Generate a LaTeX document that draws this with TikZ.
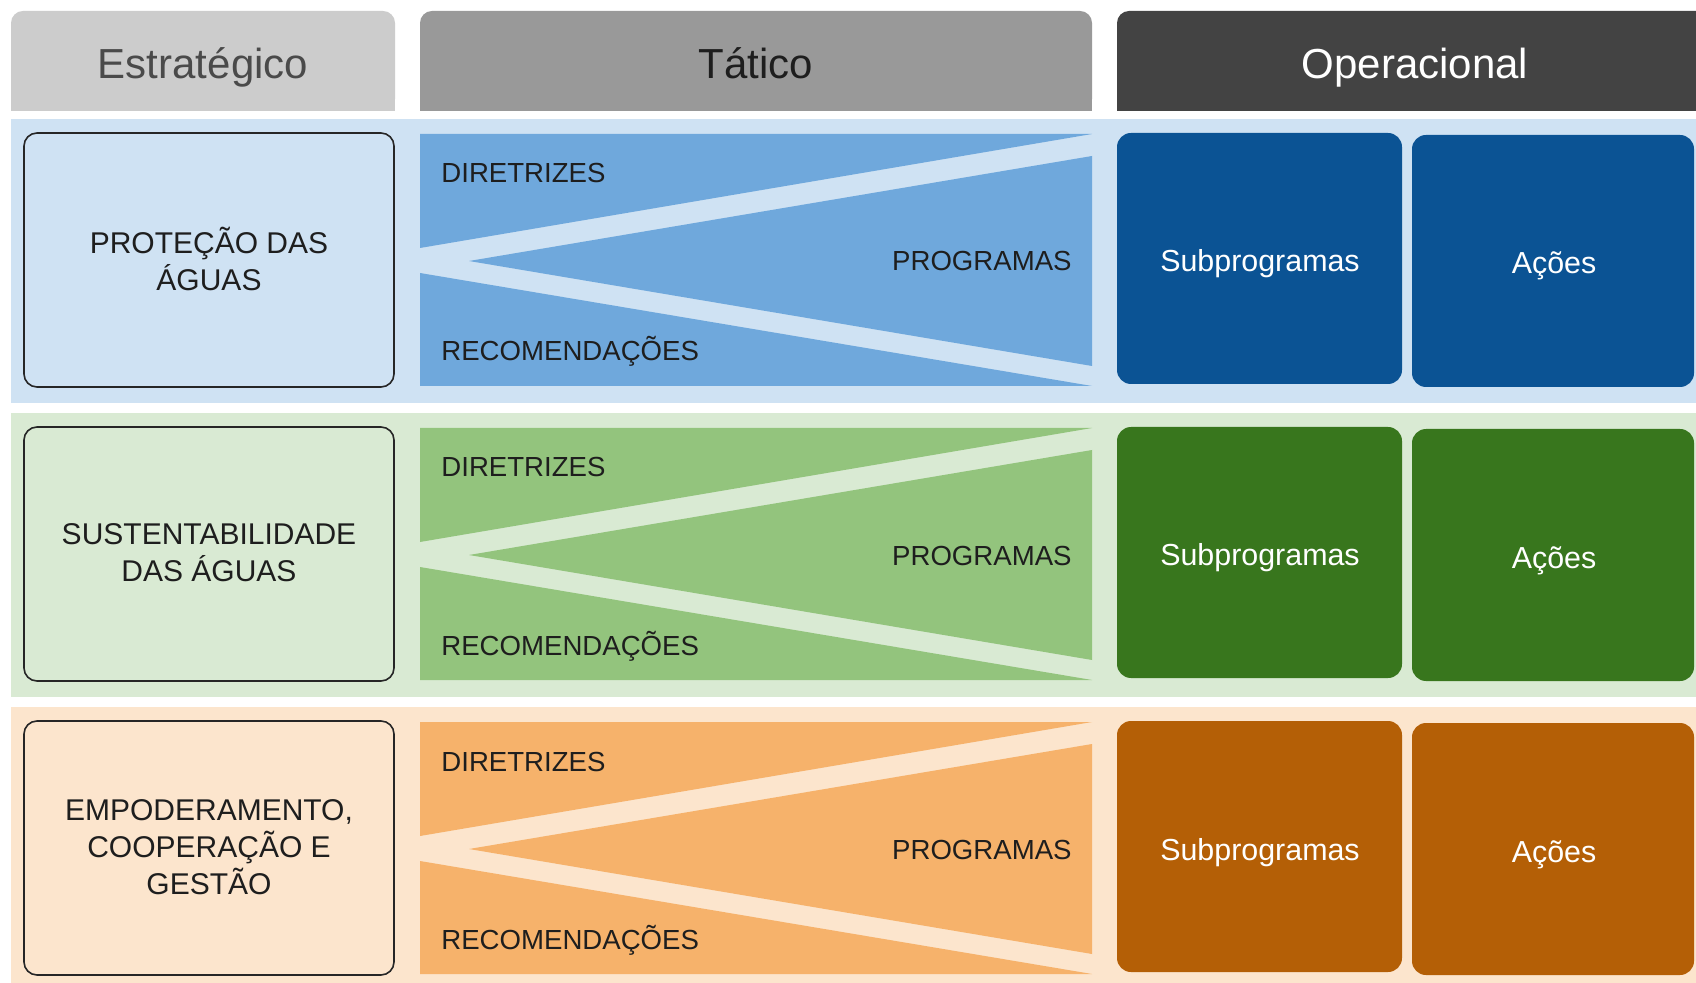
\documentclass[tikz,border=0pt]{standalone}
\usepackage{fontspec}
\setmainfont{Liberation Sans}
\definecolor{hdrA}{HTML}{CCCCCC}
\definecolor{hdrB}{HTML}{999999}
\definecolor{hdrC}{HTML}{434343}
\definecolor{bandA}{HTML}{CFE2F3}
\definecolor{tacA}{HTML}{6FA8DC}
\definecolor{opA}{HTML}{0B5394}
\definecolor{bandB}{HTML}{D9EAD3}
\definecolor{tacB}{HTML}{93C47D}
\definecolor{opB}{HTML}{38761D}
\definecolor{bandC}{HTML}{FCE5CD}
\definecolor{tacC}{HTML}{F6B26B}
\definecolor{opC}{HTML}{B45F06}
\definecolor{txtdark}{HTML}{1E1E1E}
\definecolor{txtgray}{HTML}{4A4A4A}
\tikzset{
  hdrtext/.style={font=\fontsize{21}{25}\selectfont, anchor=base, inner sep=0pt},
  taclbl/.style={font=\fontsize{13.8}{16}\selectfont, inner sep=0pt, text=txtdark},
  oplbl/.style={font=\fontsize{15.2}{18}\selectfont, text=white, anchor=base, inner sep=0pt},
  stratlbl/.style={font=\fontsize{15}{18.4}\selectfont, align=center, inner sep=0pt, text=txtdark},
  stratbox/.style={draw=black!85, line width=0.8pt, rounded corners=6.5pt},
  opbox/.style={rounded corners=7pt},
}
\begin{document}
\begin{tikzpicture}[x=0.5pt,y=-0.5pt]
\useasboundingbox (0,0) rectangle (1696,983);
\clip (0,0) rectangle (1696,983);
\fill[white] (0,0) rectangle (1696,983);
% headers
\fill[hdrA, rounded corners=6pt] (11,11) rectangle (395,111);
\fill[hdrA] (11,60) rectangle (395,111);
\fill[hdrB, rounded corners=6pt] (420,11) rectangle (1092,111);
\fill[hdrB] (420,60) rectangle (1092,111);
\fill[hdrC, rounded corners=6pt] (1117,11) rectangle (1720,111);
\fill[hdrC] (1117,60) rectangle (1720,111);
\node[hdrtext, text=txtgray] (hE) at (203,79) {Estratégico};
\node[hdrtext, text=txtdark] (hT) at (756,79) {Tático};
\node[hdrtext, text=white] (hO) at (1415,79) {Operacional};
% rows
\foreach \i/\dy/\band/\tac/\op/\txt in {
  1/0/bandA/tacA/opA/{PROTEÇÃO DAS\\ÁGUAS},
  2/294/bandB/tacB/opB/{SUSTENTABILIDADE\\DAS ÁGUAS},
  3/588/bandC/tacC/opC/{EMPODERAMENTO,\\COOPERAÇÃO E\\GESTÃO}}{
  \fill[\band] (11,119+\dy) rectangle (1696,403+\dy);
  \draw[stratbox, fill=\band] (24,133+\dy) rectangle (394,387+\dy);
  \fill[\tac] (420,134+\dy) -- (1092,134+\dy) -- (420,248+\dy) -- cycle;
  \fill[\tac] (469,261+\dy) -- (1092,156+\dy) -- (1092,366+\dy) -- cycle;
  \fill[\tac] (420,273+\dy) -- (1092,386+\dy) -- (420,386+\dy) -- cycle;
  \fill[\op, opbox] (1117,133+\dy) rectangle (1402,384+\dy);
  \fill[\op, opbox] (1412,135+\dy) rectangle (1694,387+\dy);
  \node[stratlbl] (strat\i) at (209,259+\dy) {\txt};
  \node[taclbl, anchor=base west] (dir\i) at (441,183+\dy) {DIRETRIZES};
  \node[taclbl, anchor=base west] (rec\i) at (441,361+\dy) {RECOMENDAÇÕES};
  \node[taclbl, anchor=base east] (prog\i) at (1072,271+\dy) {PROGRAMAS};
  \node[oplbl] (sub\i) at (1260,272+\dy) {Subprogramas};
  \node[oplbl] (acao\i) at (1554,274+\dy) {Ações};
}
\end{tikzpicture}
\end{document}
